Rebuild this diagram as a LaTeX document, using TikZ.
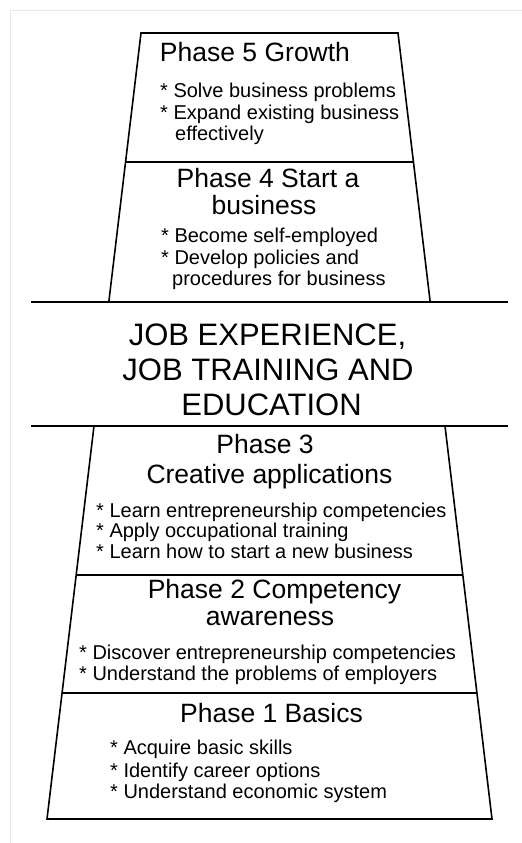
\documentclass[tikz,border=0pt]{standalone}
\usepackage{fontspec}
\setmainfont{Liberation Sans}
\begin{document}
\begin{tikzpicture}[x=1bp,y=-1bp,
  outline/.style={line width=1.6bp,line join=miter},
  frame/.style={draw=black!9,line width=1bp},
  head/.style={anchor=base,inner sep=0pt,font=\fontsize{26.5bp}{30bp}\selectfont},
  band/.style={anchor=base,inner sep=0pt,font=\fontsize{31bp}{35bp}\selectfont},
  bul/.style={anchor=base west,inner sep=0pt,font=\fontsize{20bp}{22bp}\selectfont}]
\useasboundingbox (0,0) rectangle (522,843);
% faint frame
\draw[frame] (10,843) -- (10,10) -- (522,10);
% pyramid corners
\coordinate (t5l) at (141,33);    \coordinate (t5r) at (398,33);
\coordinate (d54l) at (125.6,162); \coordinate (d54r) at (413.4,162);
\coordinate (b4l) at (108.8,302); \coordinate (b4r) at (430.2,302);
\coordinate (t3l) at (94,426);    \coordinate (t3r) at (445,426);
\coordinate (d32l) at (76.2,575); \coordinate (d32r) at (462.8,575);
\coordinate (d21l) at (62.1,693); \coordinate (d21r) at (476.9,693);
\coordinate (b1l) at (47,819);    \coordinate (b1r) at (492,819);
\coordinate (bandTL) at (31,302); \coordinate (bandTR) at (508,302);
\coordinate (bandBL) at (31,426); \coordinate (bandBR) at (508,426);
% upper trapezoid
\draw[outline] (b4l) -- (t5l) -- (t5r) -- (b4r);
\draw[outline] (d54l) -- (d54r);
% band lines
\draw[outline] (bandTL) -- (bandTR);
\draw[outline] (bandBL) -- (bandBR);
% lower trapezoid
\draw[outline] (t3l) -- (b1l) -- (b1r) -- (t3r);
\draw[outline] (d32l) -- (d32r);
\draw[outline] (d21l) -- (d21r);
% Phase 5
\node[head] (p5h) at (255,61) {Phase 5 Growth};
\node[bul] (p5a) at (160,97) {* Solve business problems};
\node[bul] (p5b) at (160,119) {* Expand existing business};
\node[bul] (p5c) at (175,140) {effectively};
% Phase 4
\node[head] (p4h) at (268,187) {Phase 4 Start a};
\node[head] (p4h2) at (264,214) {business};
\node[bul] (p4a) at (161,242) {* Become self-employed};
\node[bul] (p4b) at (161,264) {* Develop policies and};
\node[bul] (p4c) at (172,285) {procedures for business};
% band
\node[band] (j1) at (267.5,345) {JOB EXPERIENCE,};
\node[band] (j2) at (268,380) {JOB TRAINING AND};
\node[band] (j3) at (271.5,415) {EDUCATION};
% Phase 3
\node[head] (p3h) at (265,453) {Phase 3};
\node[head] (p3h2) at (269.5,483) {Creative applications};
\node[bul] (p3a) at (96,517) {* Learn entrepreneurship competencies};
\node[bul] (p3b) at (96,537) {* Apply occupational training};
\node[bul] (p3c) at (96,558) {* Learn how to start a new business};
% Phase 2
\node[head] (p2h) at (274.5,598) {Phase 2 Competency};
\node[head] (p2h2) at (270,625) {awareness};
\node[bul] (p2a) at (79,659) {* Discover entrepreneurship competencies};
\node[bul] (p2b) at (79,680) {* Understand the problems of employers};
% Phase 1
\node[head] (p1h) at (271.5,722) {Phase 1 Basics};
\node[bul] (p1a) at (110,754) {* Acquire basic skills};
\node[bul] (p1b) at (110,777) {* Identify career options};
\node[bul] (p1c) at (110,798) {* Understand economic system};
\end{tikzpicture}
\end{document}
